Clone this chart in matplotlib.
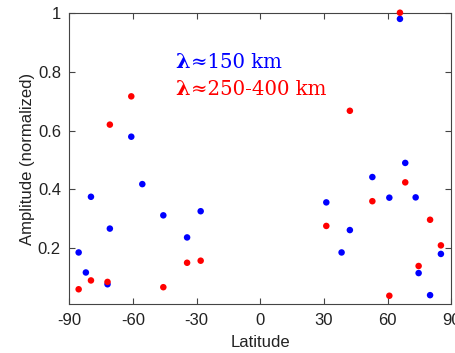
import matplotlib
matplotlib.use("Agg")
import matplotlib.pyplot as plt
from matplotlib.transforms import offset_copy

blue_lat = [-85.6, -82.2, -79.8, -72.0, -70.9, -60.8, -55.6, -45.7, -34.5, -28.1,
            31.1, 38.3, 42.2, 52.8, 60.8, 65.8, 68.3, 73.2, 74.6, 80.0, 85.1]
blue_amp = [0.186, 0.118, 0.375, 0.078, 0.267, 0.579, 0.418, 0.312, 0.237, 0.326,
            0.356, 0.186, 0.262, 0.442, 0.372, 0.979, 0.490, 0.373, 0.116, 0.041, 0.181]

red_lat = [-85.6, -79.8, -72.0, -70.9, -60.8, -45.7, -34.5, -28.1,
           31.1, 42.2, 52.8, 60.8, 65.8, 68.3, 74.6, 80.0, 85.1]
red_amp = [0.061, 0.091, 0.086, 0.620, 0.716, 0.068, 0.151, 0.158,
           0.276, 0.667, 0.360, 0.039, 1.0, 0.424, 0.140, 0.297, 0.210]

xticks = [-90, -60, -30, 0, 30, 60, 90]
yticks = [0.2, 0.4, 0.6, 0.8, 1.0]
ytick_labels = ["0.2", "0.4", "0.6", "0.8", "1"]

plt.rcParams['font.family'] = ['Liberation Sans', 'DejaVu Sans']

fig = plt.figure(figsize=(4.56, 3.53), dpi=100)
ax = fig.add_axes([0.152, 0.138, 0.8377, 0.826])

ax.scatter(blue_lat, blue_amp, s=22, color='#0000ff', edgecolors='none', zorder=3, clip_on=False)
ax.scatter(red_lat, red_amp, s=22, color='#ff0000', edgecolors='none', zorder=3, clip_on=False)

ax.set_xlim(-90, 90)
ax.set_ylim(0.01, 1.0)
ax.set_xticks(xticks)
ax.set_xticklabels([str(t) for t in xticks])
ax.set_yticks(yticks)
ax.set_yticklabels(ytick_labels)
ax.tick_params(direction='in', top=True, right=True, length=4, width=0.8,
               color='#444444', labelsize=12, labelcolor='#222222', pad=6)
for sp in ax.spines.values():
    sp.set_color('#444444')
    sp.set_linewidth(0.8)

ax.set_xlabel('Latitude', fontsize=12, color='#222222', labelpad=5)
ax.set_ylabel('Amplitude (normalized)', fontsize=12, color='#222222', labelpad=2)

serif = ['DejaVu Serif']
for (yb, col, rest) in [(0.810, '#0000ff', '≈150 km'), (0.718, '#ff0000', '≈250-400 km')]:
    ax.text(0.277, yb, 'λ', transform=ax.transAxes, color=col, fontsize=15,
            family=serif, fontweight='bold', va='baseline')
    tr = offset_copy(ax.transAxes, fig=fig, x=11.2, y=0, units='points')
    ax.text(0.277, yb, rest, transform=tr, color=col, fontsize=14.2,
            family=serif, fontweight='medium', va='baseline')

fig.savefig('out.png', dpi=100)
